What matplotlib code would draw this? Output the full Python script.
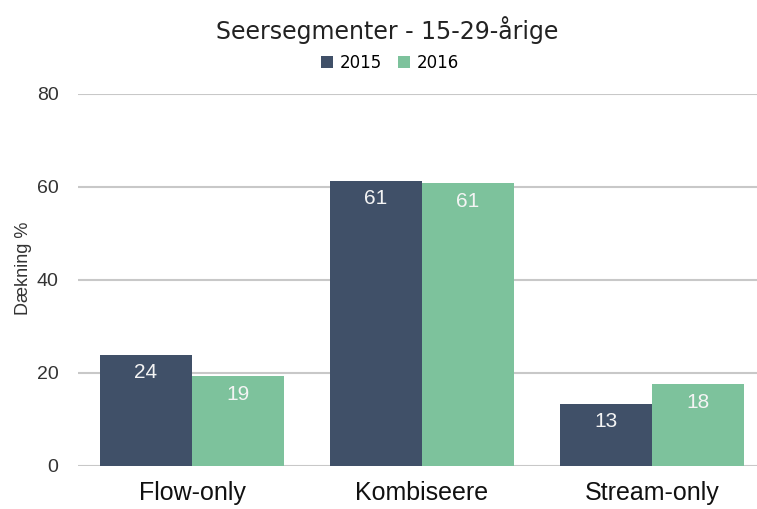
import matplotlib.pyplot as plt
import numpy as np

# data
categories = ["Flow-only", "Kombiseere", "Stream-only"]
years = ["2015", "2016"]
values_2015 = [23.9, 61.3, 13.4]
values_2016 = [19.3, 60.8, 17.6]
labels_2015 = ["24", "61", "13"]
labels_2016 = ["19", "61", "18"]
yticks = [0, 20, 40, 60, 80]

col_2015 = "#405068"
col_2016 = "#7dc29c"

plt.rcParams['font.family'] = ['Liberation Sans', 'DejaVu Sans']

fig = plt.figure(figsize=(7.57, 5.09), dpi=100)
ax = fig.add_axes([0.103, 0.0845, 0.897, 0.731])

x = np.arange(len(categories))
w = 0.4
b1 = ax.bar(x - w / 2, values_2015, w, color=col_2015, label=years[0], zorder=2)
b2 = ax.bar(x + w / 2, values_2016, w, color=col_2016, label=years[1], zorder=2)

for bars, labs in [(b1, labels_2015), (b2, labels_2016)]:
    for r, lab in zip(bars, labs):
        ax.annotate(lab, (r.get_x() + r.get_width() / 2, r.get_height()),
                    xytext=(0, -13), textcoords="offset points",
                    ha="center", va="center", color="#f4f4f4", fontsize=15)

ax.set_xlim(-0.496, 2.457)
ax.set_ylim(0, 80)
ax.set_yticks(yticks)
ax.set_xticks(x)
ax.set_xticklabels(categories, fontsize=18, color="#111111")
ax.tick_params(axis="y", length=0, pad=14, labelsize=14, labelcolor="#333333")
ax.tick_params(axis="x", length=0, pad=11)
ax.grid(axis="y", color="#c8c8c8", linewidth=1.5, zorder=0)
ax.set_axisbelow(True)
for s in ["top", "right", "left", "bottom"]:
    ax.spines[s].set_visible(False)

ax.set_ylabel("Dækning %", fontsize=13, color="#333333")
ax.yaxis.set_label_coords(-0.068, 0.532)

fig.text(0.512, 0.941, "Seersegmenter - 15-29-årige", ha="center", va="center",
         fontsize=17, color="#222222", family="DejaVu Sans")
fig.legend(loc="center", bbox_to_anchor=(0.515, 0.876), ncol=2, frameon=False,
           prop={"family": "DejaVu Sans", "size": 12},
           handlelength=0.7, handleheight=0.7, handletextpad=0.4,
           columnspacing=1.0)

fig.savefig("out.png", dpi=100)
